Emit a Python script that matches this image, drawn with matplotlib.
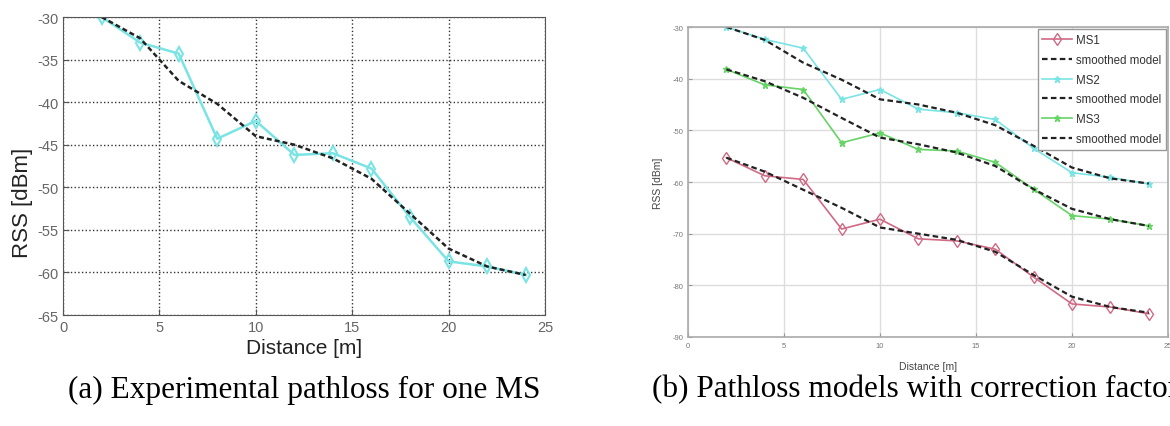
import numpy as np
import matplotlib.pyplot as plt

plt.rcParams['font.family'] = ['Liberation Sans', 'DejaVu Sans']
plt.rcParams['axes.unicode_minus'] = False

# distances of the measurement points [m]
dist = [2, 4, 6, 8, 10, 12, 14, 16, 18, 20, 22, 24]

# (a) one MS, measured and smoothed
rss_a = [-30.0, -33.0, -34.3, -44.3, -42.2, -46.2, -46.0, -47.8, -53.5, -58.7, -59.3, -60.3]
smooth_a = [-30.0, -32.5, -37.5, -40.2, -44.0, -45.0, -46.6, -49.0, -53.1, -57.2, -59.3, -60.3]

# (b) three MS with correction factor
ms1 = [-55.3, -58.8, -59.5, -69.1, -67.2, -71.0, -71.4, -73.0, -78.4, -83.6, -84.2, -85.5]
sm1 = [-55.3, -58.0, -61.5, -65.0, -68.8, -70.0, -71.2, -73.5, -78.0, -82.2, -84.2, -85.3]
ms2 = [-30.0, -32.4, -34.1, -44.0, -42.1, -45.9, -46.6, -47.9, -53.5, -58.2, -59.1, -60.4]
sm2 = [-30.0, -32.5, -36.9, -40.2, -44.0, -45.0, -46.6, -49.0, -53.0, -57.2, -59.3, -60.3]
ms3 = [-38.2, -41.2, -42.1, -52.4, -50.5, -53.7, -54.0, -56.2, -61.4, -66.5, -67.2, -68.5]
sm3 = [-38.2, -40.5, -43.7, -47.6, -51.4, -52.7, -54.3, -56.9, -61.4, -65.2, -67.2, -68.5]

cyan = '#7ae4e4'
green = '#66d466'
pink = '#d06a84'

W, H = 1170, 427
fig = plt.figure(figsize=(W/100, H/100), dpi=100)

# ---- left panel ----
ax1 = fig.add_axes([63/W, 1-316/H, (545-63)/W, (316-18)/H])
ax1.plot(dist, rss_a, '-d', color=cyan, mfc='none', ms=7, lw=1.8, mew=1.5)
ax1.plot(dist, smooth_a, '--', color='#222222', lw=1.8, dashes=(2, 1.2))
ax1.set_xlim(0, 25)
ax1.set_ylim(-65, -30)
ax1.set_xticks(np.arange(0, 26, 5))
ax1.set_yticks(np.arange(-65, -29, 5))
ax1.grid(True, ls=':', color='#333333', lw=1.0)
ax1.tick_params(labelsize=10.5, labelcolor='#666666', color='#555555', direction='in', length=4)
for s in ax1.spines.values():
    s.set_color('#555555')
ax1.set_xlabel('Distance [m]', fontsize=15, color='#222222', labelpad=3)
ax1.set_ylabel('RSS [dBm]', fontsize=16, color='#222222')
ax1.yaxis.set_label_coords(-0.062, 0.38)

# ---- right panel ----
ax2 = fig.add_axes([688/W, 1-338/H, (1168-688)/W, (338-28)/H])
ax2.plot(dist, ms1, '-d', color=pink, mfc='none', ms=6, lw=1.2, label='MS1')
ax2.plot(dist, sm1, '--', color='#222222', lw=1.6, dashes=(2.5, 1.5), label='smoothed model')
ax2.plot(dist, ms2, '-*', color=cyan, ms=5, lw=1.2, label='MS2')
ax2.plot(dist, sm2, '--', color='#222222', lw=1.6, dashes=(2.5, 1.5), label='smoothed model')
ax2.plot(dist, ms3, '-*', color=green, ms=5, lw=1.2, label='MS3')
ax2.plot(dist, sm3, '--', color='#222222', lw=1.6, dashes=(2.5, 1.5), label='smoothed model')
ax2.set_xlim(0, 25)
ax2.set_ylim(-90, -30)
ax2.set_xticks(np.arange(0, 26, 5))
ax2.set_yticks(np.arange(-90, -29, 10))
ax2.grid(True, color='#dddddd', lw=1.0)
ax2.tick_params(labelsize=5.5, labelcolor='#777777', color='#999999', direction='in', length=3)
for s in ax2.spines.values():
    s.set_color('#aaaaaa')
    s.set_linewidth(1.2)
ax2.set_xlabel('Distance [m]', fontsize=7.5, color='#444444', labelpad=9)
ax2.set_ylabel('RSS [dBm]', fontsize=7.5, color='#444444', labelpad=7)
leg = ax2.legend(loc='upper right', fontsize=8.3, handlelength=2.6, handletextpad=0.3,
                 borderaxespad=0.2, labelspacing=0.68, fancybox=False, framealpha=1)
leg.get_frame().set_edgecolor('#999999')
for t in leg.get_texts():
    t.set_color('#333333')

# ---- captions ----
fig.text(304/W, 1-390/H, '(a) Experimental pathloss for one MS', fontsize=22.5,
         family='Liberation Serif', ha='center', va='center')
fig.text(652/W, 1-390/H, '(b) Pathloss models with correction factor', fontsize=22.5,
         family='Liberation Serif', ha='left', va='center')

fig.savefig('out.png', dpi=100)
